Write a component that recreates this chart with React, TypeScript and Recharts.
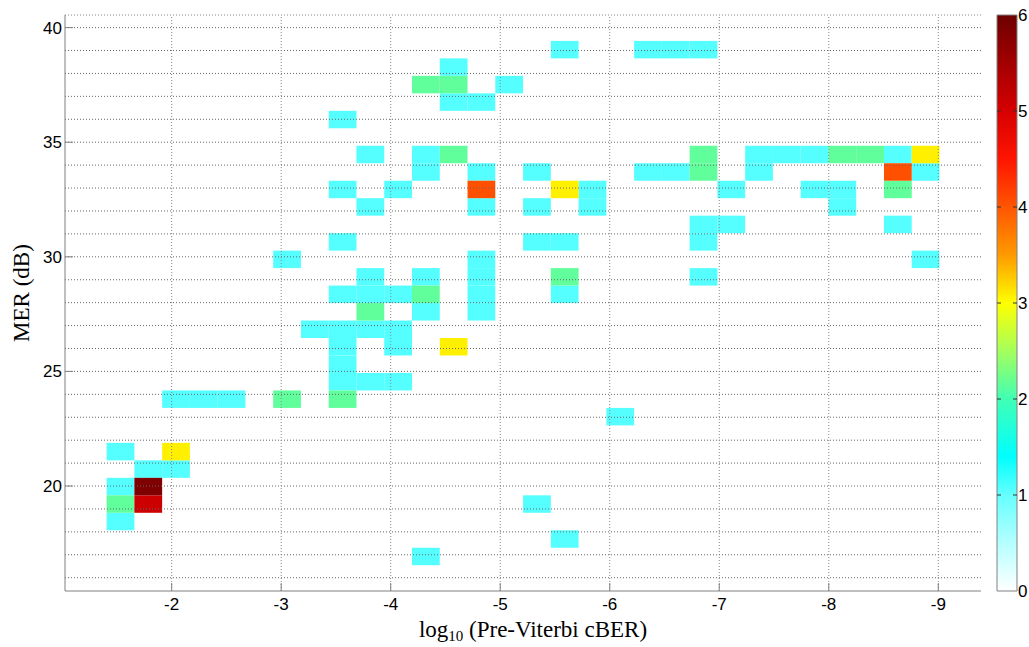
import { ComposedChart, Scatter, XAxis, YAxis, ReferenceArea, ReferenceLine, Label } from 'recharts';

// axes
const X_DOMAIN: [number, number] = [-9.39, -1.026];
const Y_DOMAIN: [number, number] = [15.42, 40.55];
const X_TICKS = [-2, -3, -4, -5, -6, -7, -8, -9];
const Y_TICKS = [20, 25, 30, 35, 40];
const Y_GRID = [16, 17, 18, 19, 20, 21, 22, 23, 24, 25, 26, 27, 28, 29, 30, 31, 32, 33, 34, 35, 36, 37, 38, 39, 40];
const CBAR_TICKS = [0, 1, 2, 3, 4, 5, 6];

// histogram bins (30 x 30): log10 cBER columns, MER rows
const X_BIN_START = -1.406;
const X_BIN_WIDTH = -0.2535;
const Y_BIN_START = 16.545;
const Y_BIN_HEIGHT = 0.7625;

// occupied bins as [column, row], grouped by count
const CELLS_1: [number, number][] = [
  [0, 6], [1, 5], [2, 5], [0, 4], [0, 2],
  [11, 0], [16, 1], [15, 3], [18, 8],
  [2, 9], [3, 9], [4, 9],
  [8, 10], [9, 10], [10, 10], [8, 11], [8, 12], [10, 12],
  [7, 13], [8, 13], [9, 13], [10, 13],
  [11, 14], [13, 14],
  [8, 15], [9, 15], [10, 15], [13, 15], [16, 15],
  [9, 16], [11, 16], [13, 16], [21, 16],
  [6, 17], [13, 17], [29, 17],
  [8, 18], [15, 18], [16, 18], [21, 18],
  [21, 19], [22, 19], [28, 19],
  [9, 20], [13, 20], [15, 20], [17, 20], [26, 20],
  [8, 21], [10, 21], [17, 21], [22, 21], [25, 21], [26, 21],
  [11, 22], [13, 22], [15, 22], [19, 22], [20, 22], [23, 22], [29, 22],
  [9, 23], [11, 23], [23, 23], [24, 23], [25, 23], [28, 23],
  [8, 25], [12, 26], [13, 26], [14, 27], [12, 28],
  [16, 29], [19, 29], [20, 29], [21, 29],
];
const CELLS_2: [number, number][] = [
  [0, 3], [6, 9], [8, 9], [9, 14], [11, 15], [16, 16],
  [21, 22], [21, 23], [28, 21], [12, 23], [26, 23], [27, 23],
  [11, 27], [12, 27],
];
const CELLS_3: [number, number][] = [[2, 6], [12, 12], [16, 21], [29, 23]];
const CELLS_4: [number, number][] = [[13, 21], [28, 22]];
const CELLS_5: [number, number][] = [[1, 3]];
const CELLS_6: [number, number][] = [[1, 4]];

const COUNT_COLORS = ['#ffffff', '#55ffff', '#60ff9c', '#fff000', '#ff5000', '#cc0000', '#7f0000'];

const CMAP_STOPS: [number, string][] = [
  [0, '#ffffff'], [0.5, '#b4ffff'], [1, '#66ffff'], [1.4, '#00ffff'], [2, '#40ffb4'],
  [2.5, '#a4ff5c'], [3, '#ffff00'], [3.5, '#ff9a00'], [4, '#ff5500'], [4.5, '#ff1500'],
  [5, '#d60000'], [6, '#6e0000'],
];

const GROUPS = [
  { count: 1, cells: CELLS_1 },
  { count: 2, cells: CELLS_2 },
  { count: 3, cells: CELLS_3 },
  { count: 4, cells: CELLS_4 },
  { count: 5, cells: CELLS_5 },
  { count: 6, cells: CELLS_6 },
];

// bin centres, used as the chart's data series
const binData = GROUPS.flatMap((g) =>
  g.cells.map(([c, r]) => ({
    x: X_BIN_START + (c + 0.5) * X_BIN_WIDTH,
    y: Y_BIN_START + (r + 0.5) * Y_BIN_HEIGHT,
    count: g.count,
  }))
);
const cbarData = [{ x: 0, y: 0 }, { x: 1, y: 6 }];

const SANS = '"Liberation Sans", Arial, sans-serif';
const SERIF = '"Liberation Serif", "Times New Roman", serif';
const GRID = { stroke: '#666', strokeDasharray: '1 2', strokeWidth: 1 };

const NoShape = () => <g />;

const XTitle = (props: any) => {
  const { x, y, width } = props.viewBox;
  return (
    <text x={x + width / 2 + 10} y={y + 46} textAnchor="middle" fontFamily={SERIF} fontSize={23} fill="#000">
      log<tspan fontSize={15} dy={4}>10</tspan>
      <tspan dy={-4}> (Pre-Viterbi cBER)</tspan>
    </text>
  );
};

const YTitle = (props: any) => {
  const { y, height } = props.viewBox;
  const cx = 21;
  const cy = y + height / 2 - 10;
  return (
    <text x={cx} y={cy} transform={`rotate(-90 ${cx} ${cy})`} textAnchor="middle" dominantBaseline="central"
      fontFamily={SERIF} fontSize={23} fill="#000">
      MER (dB)
    </text>
  );
};

export default function App() {
  return (
    <div style={{ position: 'absolute', left: 0, top: 0, width: 1029, height: 647, background: '#fff' }}>
      <div style={{ position: 'absolute', left: 0, top: 0 }}>
        <ComposedChart width={1029} height={647} margin={{ top: 15, right: 48, bottom: 0, left: 0 }}>
          <XAxis type="number" dataKey="x" domain={X_DOMAIN} reversed allowDataOverflow ticks={X_TICKS} interval={0}
            height={56} tickSize={-8} tickMargin={15} stroke="#808080"
            tick={{ fontSize: 17, fontFamily: SANS, fill: '#000' }}>
            <Label content={XTitle} />
          </XAxis>
          <YAxis type="number" dataKey="y" domain={Y_DOMAIN} allowDataOverflow ticks={Y_TICKS} interval={0}
            width={65} tickSize={-8} tickMargin={11} stroke="#808080"
            tick={{ fontSize: 17, fontFamily: SANS, fill: '#000' }}>
            <Label content={YTitle} />
          </YAxis>
          {GROUPS.flatMap((g) =>
            g.cells.map(([c, r]) => (
              <ReferenceArea
                key={`c${g.count}-${c}-${r}`}
                x1={X_BIN_START + c * X_BIN_WIDTH}
                x2={X_BIN_START + (c + 1) * X_BIN_WIDTH}
                y1={Y_BIN_START + r * Y_BIN_HEIGHT}
                y2={Y_BIN_START + (r + 1) * Y_BIN_HEIGHT}
                fill={COUNT_COLORS[g.count]}
                fillOpacity={1}
                stroke="none"
              />
            ))
          )}
          {Y_GRID.map((v) => (
            <ReferenceLine key={`gy${v}`} y={v} {...GRID} />
          ))}
          <ReferenceLine y={Y_DOMAIN[1]} {...GRID} stroke="#888" />
          {X_TICKS.map((v) => (
            <ReferenceLine key={`gx${v}`} x={v} {...GRID} stroke="#888" />
          ))}
          <Scatter data={binData} dataKey="y" shape={NoShape} isAnimationActive={false} />
        </ComposedChart>
      </div>
      <div style={{ position: 'absolute', left: 990, top: 0 }}>
        <ComposedChart width={39} height={647} margin={{ top: 15, right: 0, bottom: 56, left: 7 }}>
          <defs>
            <linearGradient id="cmapGrad" x1="0" y1="1" x2="0" y2="0">
              {CMAP_STOPS.map(([v, col]) => (
                <stop key={v} offset={v / 6} stopColor={col} />
              ))}
            </linearGradient>
          </defs>
          <XAxis type="number" dataKey="x" domain={[0, 1]} hide />
          <YAxis type="number" dataKey="y" orientation="right" domain={[0, 6]} ticks={CBAR_TICKS} interval={0} width={12}
            axisLine={false} tickLine={false} tickSize={0} tickMargin={1}
            tick={{ fontSize: 17, fontFamily: SANS, fill: '#000' }} />
          <ReferenceArea x1={0} x2={1} y1={0} y2={6} fill="url(#cmapGrad)" fillOpacity={1} stroke="#808080" />
          {CBAR_TICKS.slice(1, 6).map((v) => (
            <ReferenceLine key={`tl${v}`} segment={[{ x: 0, y: v }, { x: 0.2, y: v }]} stroke="#333" />
          ))}
          {CBAR_TICKS.slice(1, 6).map((v) => (
            <ReferenceLine key={`tr${v}`} segment={[{ x: 0.8, y: v }, { x: 1, y: v }]} stroke="#333" />
          ))}
          <Scatter data={cbarData} dataKey="y" shape={NoShape} isAnimationActive={false} />
        </ComposedChart>
      </div>
    </div>
  );
}
